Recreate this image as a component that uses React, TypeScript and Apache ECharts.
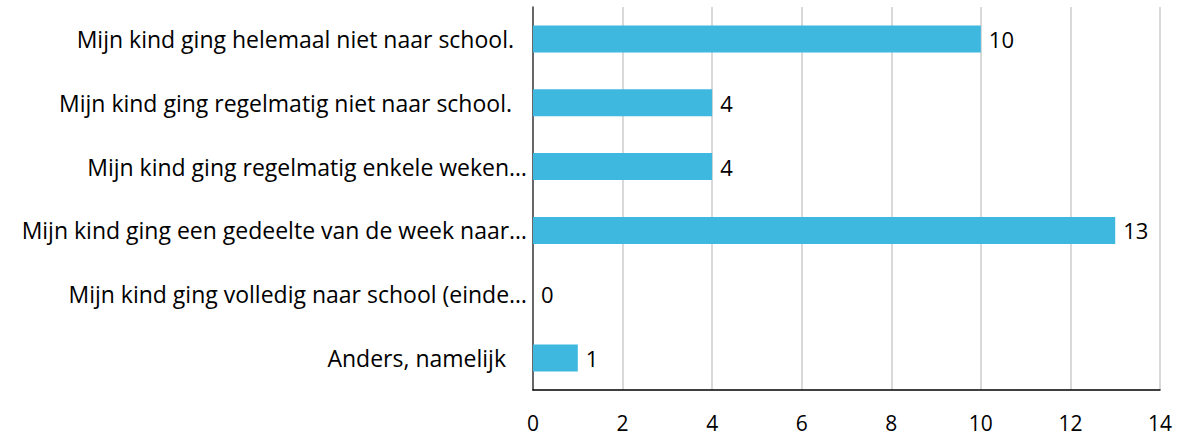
import React, { useEffect, useRef } from "react";
import * as echarts from "echarts";

const categories = [
  "Mijn kind ging helemaal niet naar school.",
  "Mijn kind ging regelmatig niet naar school.",
  "Mijn kind ging regelmatig enkele weken…",
  "Mijn kind ging een gedeelte van de week naar…",
  "Mijn kind ging volledig naar school (einde…",
  "Anders, namelijk",
];
const values = [10, 4, 4, 13, 0, 1];
const labelPads = [13, 15, 0, 0, 0, 21];
const xTicks = { min: 0, max: 14, interval: 2 };

const FONT = "Open Sans";

export default function App() {
  const ref = useRef<HTMLDivElement>(null);
  useEffect(() => {
    document.body.style.margin = "0";
    if (!ref.current) return;
    const chart = echarts.init(ref.current, undefined, { renderer: "svg" });
    const cats = [...categories].reverse();
    const pads = [...labelPads].reverse();
    const vals = [...values].reverse();
    chart.setOption({
      animation: false,
      grid: { left: 533, right: 20, top: 7, bottom: 47, containLabel: false },
      xAxis: {
        type: "value",
        min: xTicks.min,
        max: xTicks.max,
        interval: xTicks.interval,
        axisLine: { show: true, onZero: false, lineStyle: { color: "#000", width: 1.5 } },
        axisTick: { show: false },
        splitLine: { show: true, lineStyle: { color: "#d9d9d9", width: 2 } },
        axisLabel: { color: "#000", fontSize: 21, fontFamily: FONT, margin: 22 },
      },
      yAxis: {
        type: "category",
        data: cats.map((c, i) => ({ value: c, textStyle: { padding: [0, pads[i], 0, 0] } })),
        axisLine: { show: true, lineStyle: { color: "#404040", width: 1.5 } },
        axisTick: { show: false },
        axisLabel: { color: "#000", fontSize: 23, fontFamily: FONT, margin: 6 },
      },
      series: [
        {
          type: "bar",
          data: vals,
          barWidth: 27,
          itemStyle: { color: "#3FB8E0" },
          label: {
            show: true,
            position: "right",
            distance: 8,
            color: "#000",
            fontSize: 22,
            fontFamily: FONT,
          },
        },
      ],
    });
    return () => chart.dispose();
  }, []);
  return <div ref={ref} style={{ width: 1180, height: 437 }} />;
}
